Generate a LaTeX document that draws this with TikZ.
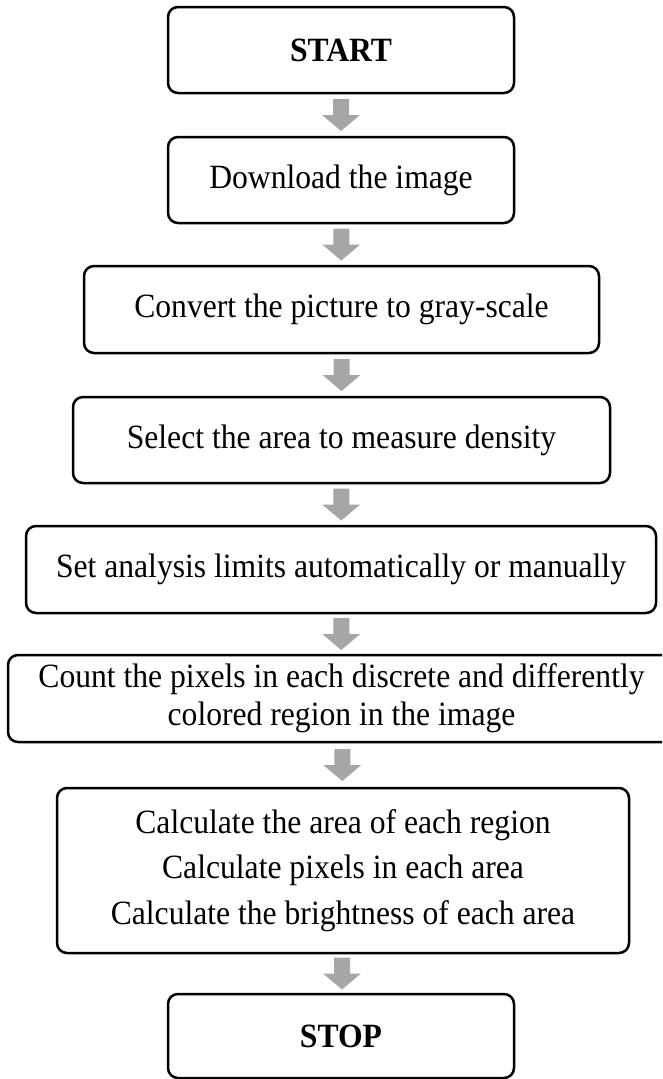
\documentclass[tikz,border=0pt]{standalone}
\usepackage{fontspec}
\setmainfont{Liberation Serif}[FakeStretch=0.93]
\usetikzlibrary{calc}
\definecolor{arrowgray}{HTML}{A6A6A6}
\tikzset{
  box/.style={draw=black, line width=2.5pt, rounded corners=10pt, fill=white,
    inner sep=0pt, align=center, font=\fontsize{34}{38}\selectfont},
  endbox/.style={box, font=\fontsize{34}{38}\selectfont\bfseries},
  arrowfill/.style={fill=arrowgray, draw=none}
}
% thick grey block arrow centred between two boxes
\newcommand\flowarrow[2]{%
  \path ($(#1.south)!0.5!(#2.north)$) coordinate (m-#1);
  \fill[arrowfill] ([shift={(-8,-16)}]m-#1) -- ([shift={(8,-16)}]m-#1)
    -- ([shift={(8,0)}]m-#1) -- ([shift={(19,0)}]m-#1) -- ([shift={(0,16)}]m-#1)
    -- ([shift={(-19,0)}]m-#1) -- ([shift={(-8,0)}]m-#1) -- cycle;}
\begin{document}
\begin{tikzpicture}[x=1pt, y=-1pt]
\useasboundingbox (0,0) rectangle (662,1079);
\begin{scope}
\clip (0,0) rectangle (662,1079);
\node[endbox, minimum width=346pt, minimum height=86pt] (start) at (341,50) {START};
\node[box, minimum width=346pt, minimum height=86pt] (download) at (341,180) {Download the image};
\node[box, minimum width=515pt, minimum height=87pt] (convert) at (341.5,309.5) {Convert the picture to gray-scale};
\node[box, minimum width=537pt, minimum height=86pt] (select) at (341.5,440) {Select the area to measure density};
\node[box, minimum width=630pt, minimum height=87pt] (limits) at (341,569.5) {Set analysis limits automatically or manually};
\node[box, minimum width=667pt, minimum height=87pt] (count) at (341.5,698.5)
  {Count the pixels in each discrete and differently\\colored region in the image};
\node[box, minimum width=572pt, minimum height=165pt, font=\fontsize{34}{45.5}\selectfont] (calc) at (343,870.5)
  {Calculate the area of each region\\Calculate pixels in each area\\Calculate the brightness of each area};
\node[endbox, minimum width=346pt, minimum height=84pt] (stop) at (341,1036) {STOP};
\end{scope}
\flowarrow{start}{download}
\flowarrow{download}{convert}
\flowarrow{convert}{select}
\flowarrow{select}{limits}
\flowarrow{limits}{count}
\flowarrow{count}{calc}
\flowarrow{calc}{stop}
\end{tikzpicture}
\end{document}
